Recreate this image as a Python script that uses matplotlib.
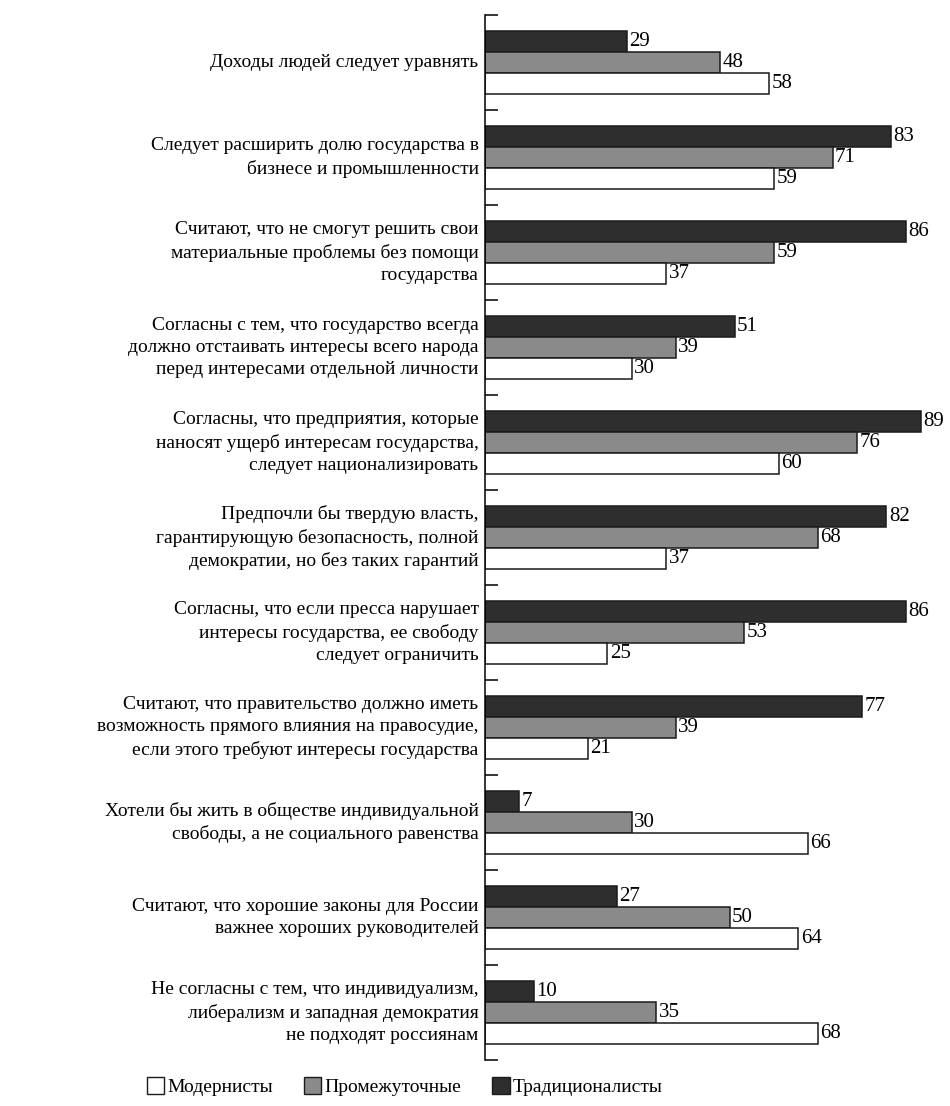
import numpy as np
import matplotlib
matplotlib.use("Agg")
import matplotlib.pyplot as plt
from matplotlib.patches import Patch

plt.rcParams['font.family'] = ['Liberation Serif', 'DejaVu Serif']

# categories, top to bottom
categories = [
    "Доходы людей следует уравнять",
    "Следует расширить долю государства в\nбизнесе и промышленности",
    "Считают, что не смогут решить свои\nматериальные проблемы без помощи\nгосударства",
    "Согласны с тем, что государство всегда\nдолжно отстаивать интересы всего народа\nперед интересами отдельной личности",
    "Согласны, что предприятия, которые\nнаносят ущерб интересам государства,\nследует национализировать",
    "Предпочли бы твердую власть,\nгарантирующую безопасность, полной\nдемократии, но без таких гарантий",
    "Согласны, что если пресса нарушает\nинтересы государства, ее свободу\nследует ограничить",
    "Считают, что правительство должно иметь\nвозможность прямого влияния на правосудие,\nесли этого требуют интересы государства",
    "Хотели бы жить в обществе индивидуальной\nсвободы, а не социального равенства",
    "Считают, что хорошие законы для России\nважнее хороших руководителей",
    "Не согласны с тем, что индивидуализм,\nлиберализм и западная демократия\nне подходят россиянам",
]
traditionalists = [29, 83, 86, 51, 89, 82, 86, 77, 7, 27, 10]
intermediate = [48, 71, 59, 39, 76, 68, 53, 39, 30, 50, 35]
modernists = [58, 59, 37, 30, 60, 37, 25, 21, 66, 64, 68]

series_names = ["Модернисты", "Промежуточные", "Традиционалисты"]
colors = ["white", "#8a8a8a", "#2e2e2e"]

fig = plt.figure(figsize=(9.5, 11.06), dpi=100)
ax = fig.add_axes([0.5105, 0.0416, 0.4895, 0.9448])

y = np.arange(len(categories))
h = 0.22
fs = 14

groups = [(traditionalists, colors[2], -h), (intermediate, colors[1], 0), (modernists, colors[0], h)]
for vals, col, off in groups:
    ax.barh(y + off, vals, height=h, color=col, edgecolor="#1a1a1a", linewidth=1.1)
    for yi, v in zip(y, vals):
        ax.text(v + 0.5, yi + off, str(v), va="center", ha="left", fontsize=15)

ax.set_ylim(len(categories) - 0.5, -0.5)
ax.set_xlim(0, 95)

# category labels to the left of the axis
for yi, lab in zip(y, categories):
    ax.text(-1.3, yi, lab, ha="right", va="center", fontsize=fs,
            linespacing=1.42, transform=ax.transData)

ax.set_yticks(np.arange(-0.5, len(categories) + 0.5, 1))
ax.set_yticklabels([])
ax.tick_params(axis="y", direction="in", length=9, width=1.1)
ax.set_xticks([])
for s in ["top", "right", "bottom"]:
    ax.spines[s].set_visible(False)
ax.spines["left"].set_linewidth(1.1)

handles = [Patch(facecolor=c, edgecolor="#1a1a1a", linewidth=1.0) for c in colors]
fig.legend(handles, series_names, loc="lower center", bbox_to_anchor=(0.426, -0.007),
           ncol=3, frameon=False, fontsize=14, handlelength=0.9, handleheight=0.9,
           handletextpad=0.15, columnspacing=1.6)

fig.savefig("out.png", dpi=100)
